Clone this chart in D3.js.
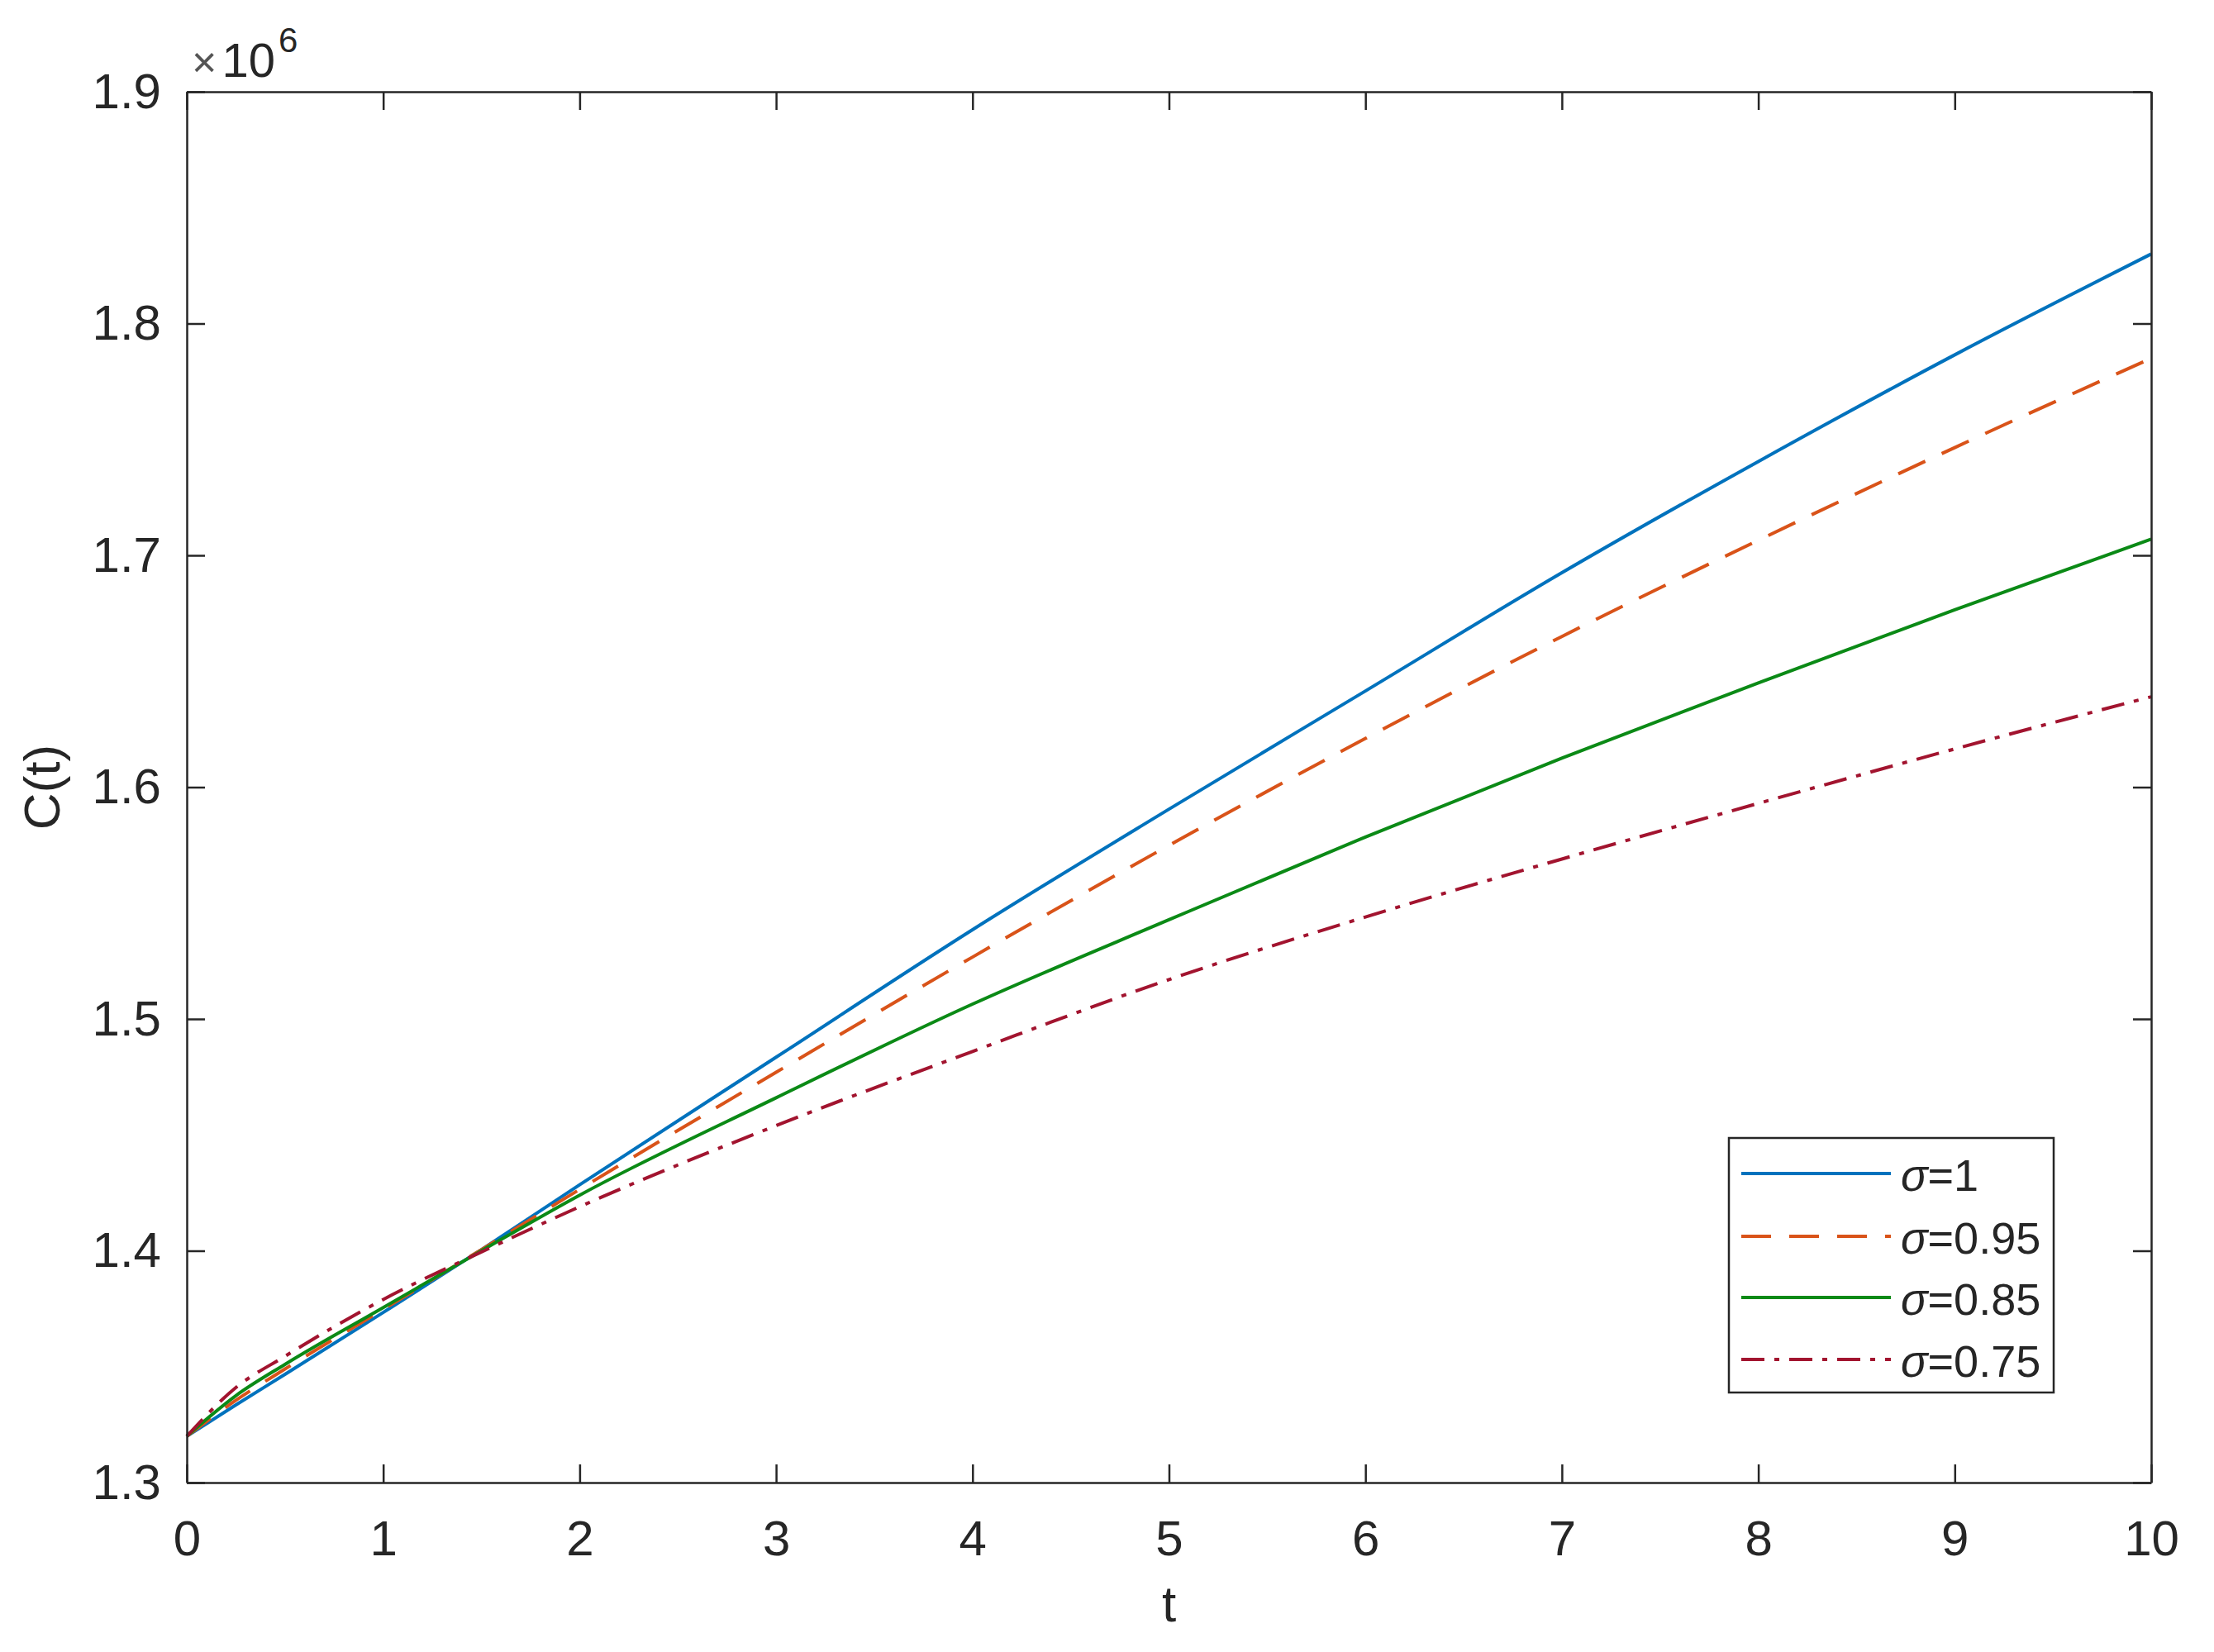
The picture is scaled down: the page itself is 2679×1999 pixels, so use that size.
<!DOCTYPE html>
<html><head><meta charset="utf-8">
<script src="https://cdn.jsdelivr.net/npm/d3@7"></script>
<style>
body{margin:0;background:#fff;}
text{font-family:"Liberation Sans",Arial,Helvetica,sans-serif;fill:#262626;}
</style></head>
<body><svg id="chart" width="2679" height="1999"></svg>
<script>
const tValues = [0, 0.25, 0.5, 1, 1.5, 2, 3, 4, 5, 6, 7, 8, 9, 10];
const sigma100 = [1.320, 1.3335, 1.3467, 1.3734, 1.4005, 1.4285, 1.4835, 1.5385, 1.5905, 1.6415, 1.6925, 1.7405, 1.7865, 1.830];
const sigma095 = [1.320, 1.3355, 1.3490, 1.3747, 1.4005, 1.4265, 1.4770, 1.5267, 1.5749, 1.6210, 1.6650, 1.7065, 1.7465, 1.785];
const sigma085 = [1.320, 1.3375, 1.3510, 1.3755, 1.4000, 1.4240, 1.4660, 1.5064, 1.5428, 1.5785, 1.6125, 1.6450, 1.6765, 1.707];
const sigma075 = [1.320, 1.3410, 1.3545, 1.3790, 1.3995, 1.4190, 1.4540, 1.4860, 1.5170, 1.5440, 1.5690, 1.5930, 1.6165, 1.639];
const seriesNames = ["=1", "=0.95", "=0.85", "=0.75"];
const xTicks = [0,1,2,3,4,5,6,7,8,9,10];
const yTicks = [1.3,1.4,1.5,1.6,1.7,1.8,1.9];

const series = [
  {name: seriesNames[0], vals: sigma100, color: "#0072BD", dash: null},
  {name: seriesNames[1], vals: sigma095, color: "#D95319", dash: "36,22"},
  {name: seriesNames[2], vals: sigma085, color: "#0b8a16", dash: null},
  {name: seriesNames[3], vals: sigma075, color: "#A2142F", dash: "28,12,6,12"}
];

const L = 226, R = 2603, T = 111, B = 1794;
const svg = d3.select("#chart");
const x = d3.scaleLinear().domain([0,10]).range([L,R]);
const y = d3.scaleLinear().domain([1.3,1.9]).range([B,T]);
const fs = 60;

const line = d3.line().x((d,i)=>x(tValues[i])).y(d=>y(d)).curve(d3.curveMonotoneX);
const plot = svg.append("g");
series.forEach(s=>{
  plot.append("path").attr("d", line(s.vals)).attr("fill","none")
    .attr("stroke", s.color).attr("stroke-width", 4)
    .attr("stroke-dasharray", s.dash);
});

function styleAxis(g){
  g.selectAll(".domain").attr("stroke","#262626").attr("stroke-width",2.5);
  g.selectAll(".tick line").attr("stroke","#262626").attr("stroke-width",2.5);
  g.selectAll("text").attr("font-size",fs).attr("fill","#262626")
   .attr("font-family","'Liberation Sans',Arial,sans-serif");
}
const xb = svg.append("g").attr("transform",`translate(0,${B})`)
  .call(d3.axisBottom(x).tickValues(xTicks).tickFormat(d3.format("d")).tickSizeInner(-22).tickSizeOuter(0).tickPadding(45));
styleAxis(xb);
const xt = svg.append("g").attr("transform",`translate(0,${T})`)
  .call(d3.axisTop(x).tickValues(xTicks).tickFormat("").tickSizeInner(-22).tickSizeOuter(0));
styleAxis(xt);
const yl = svg.append("g").attr("transform",`translate(${L},0)`)
  .call(d3.axisLeft(y).tickValues(yTicks).tickFormat(d3.format(".1f")).tickSizeInner(-22).tickSizeOuter(0).tickPadding(31));
styleAxis(yl);
const yr = svg.append("g").attr("transform",`translate(${R},0)`)
  .call(d3.axisRight(y).tickValues(yTicks).tickFormat("").tickSizeInner(-22).tickSizeOuter(0));
styleAxis(yr);

// exponent label
const ex = svg.append("text").attr("x",232).attr("y",93).attr("font-size",58);
ex.append("tspan").text("\u00d7").attr("font-size",52).attr("fill","#555");
ex.append("tspan").text("10").attr("dx",6);
ex.append("tspan").text("6").attr("font-size",42).attr("dy",-30).attr("dx",4);

// axis labels
svg.append("text").attr("x",(L+R)/2).attr("y",1962).attr("text-anchor","middle").attr("font-size",62).text("t");
svg.append("text").attr("transform",`translate(72,${(T+B)/2}) rotate(-90)`).attr("text-anchor","middle").attr("font-size",62).text("C(t)");

// legend
const lg = svg.append("g");
lg.append("rect").attr("x",2092).attr("y",1377).attr("width",393).attr("height",308)
  .attr("fill","#fff").attr("stroke","#262626").attr("stroke-width",2.5);
const rowY = [1420,1496,1570,1645];
series.forEach((s,i)=>{
  lg.append("line").attr("x1",2107).attr("x2",2288).attr("y1",rowY[i]).attr("y2",rowY[i])
    .attr("stroke",s.color).attr("stroke-width",4).attr("stroke-dasharray",s.dash);
  const t = lg.append("text").attr("x",2300).attr("y",rowY[i]+21).attr("font-size",54);
  t.append("tspan").text("\u03c3").attr("font-style","italic");
  t.append("tspan").text(s.name);
});
</script></body></html>
